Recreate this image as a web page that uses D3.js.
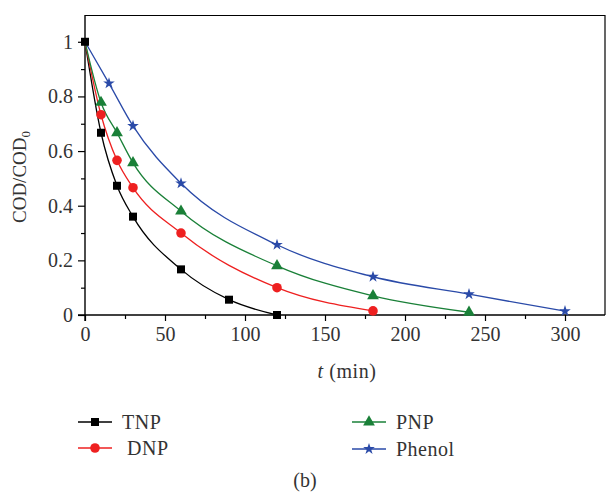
<!DOCTYPE html>
<html><head><meta charset="utf-8">
<script src="https://cdn.jsdelivr.net/npm/d3@7"></script>
<style>body{margin:0;background:#fff}svg{display:block}</style>
</head><body>
<svg id="c" width="606" height="496"></svg>
<script>
const seriesNames = ["TNP", "DNP", "PNP", "Phenol"];
const seriesColors = ["#000000", "#ee2020", "#1a8038", "#2a4aa8"];
const tnpT = [0, 10, 20, 30, 60, 90, 120];
const tnpV = [1, 0.667, 0.473, 0.36, 0.167, 0.056, 0];
const dnpT = [0, 10, 20, 30, 60, 120, 180];
const dnpV = [1, 0.733, 0.566, 0.466, 0.30, 0.10, 0.015];
const pnpT = [0, 10, 20, 30, 60, 120, 180, 240];
const pnpV = [1, 0.778, 0.667, 0.557, 0.38, 0.18, 0.07, 0.01];
const phenolT = [0, 15, 30, 60, 120, 180, 240, 300];
const phenolV = [1, 0.848, 0.692, 0.482, 0.257, 0.14, 0.076, 0.014];
const xTicks = [0, 50, 100, 150, 200, 250, 300];
const yTicks = [0, 0.2, 0.4, 0.6, 0.8, 1];

const svg = d3.select("#c");
const font = "'Liberation Serif','DejaVu Serif',serif";
const x = d3.scaleLinear().domain([0, 325]).range([85, 605]);
const y = d3.scaleLinear().domain([0, 1.098]).range([315, 15]);

const series = [
  {t: tnpT, v: tnpV, shape: "square"},
  {t: dnpT, v: dnpV, shape: "circle"},
  {t: pnpT, v: pnpV, shape: "triangle"},
  {t: phenolT, v: phenolV, shape: "star"}
].map((s, i) => ({...s, name: seriesNames[i], color: seriesColors[i],
  pts: s.t.map((t, j) => [t, s.v[j]])}));

// frame
svg.append("line").attr("x1", 85).attr("x2", 605).attr("y1", 15.5).attr("y2", 15.5).attr("stroke", "#000").attr("stroke-width", 1.2);
svg.append("line").attr("x1", 605).attr("x2", 605).attr("y1", 15).attr("y2", 315).attr("stroke", "#000").attr("stroke-width", 1.2);

// axes
const xAxis = svg.append("g").attr("transform", "translate(0,315)")
  .call(d3.axisBottom(x).tickValues(xTicks).tickSize(6).tickPadding(6).tickFormat(d3.format("d")));
const xMinor = svg.append("g").attr("transform", "translate(0,315)")
  .call(d3.axisBottom(x).tickValues(d3.range(25, 325, 50)).tickSize(4).tickFormat(""));
const yAxis = svg.append("g").attr("transform", "translate(85,0)")
  .call(d3.axisLeft(y).tickValues(yTicks).tickSize(7).tickPadding(5).tickFormat(d => d === 0 || d === 1 ? String(d) : d3.format(".1f")(d)));
const yMinor = svg.append("g").attr("transform", "translate(85,0)")
  .call(d3.axisLeft(y).tickValues(d3.range(0.1, 1.1, 0.2)).tickSize(4).tickFormat(""));
[xAxis, xMinor, yAxis, yMinor].forEach(g => {
  g.select(".domain").remove();
  g.selectAll("line").attr("stroke", "#000").attr("stroke-width", 1.2);
  g.selectAll("text").attr("font-family", font).attr("font-size", 20).attr("fill", "#333");
});
svg.append("line").attr("x1", 78).attr("x2", 605).attr("y1", 315).attr("y2", 315).attr("stroke", "#000").attr("stroke-width", 1.4);
svg.append("line").attr("x1", 85).attr("x2", 85).attr("y1", 15).attr("y2", 321).attr("stroke", "#000").attr("stroke-width", 1.4);

// axis labels
const xl = svg.append("text").attr("x", 347).attr("y", 378).attr("text-anchor", "middle")
  .attr("font-family", font).attr("font-size", 20).attr("fill", "#333").attr("letter-spacing", 0.6);
xl.append("tspan").attr("font-style", "italic").text("t");
xl.append("tspan").text(" (min)");
const yl = svg.append("text").attr("transform", "translate(26,177) rotate(-90)").attr("text-anchor", "middle")
  .attr("font-family", font).attr("font-size", 19).attr("fill", "#333");
yl.append("tspan").text("COD/COD");
yl.append("tspan").attr("font-size", 13).attr("dy", 4).text("0");

// curves
const line = d3.line().x(d => x(d[0])).y(d => y(d[1])).curve(d3.curveMonotoneX);
series.forEach(s => {
  svg.append("path").attr("d", line(s.pts)).attr("fill", "none").attr("stroke", s.color).attr("stroke-width", 1.3);
});

function symbolFor(shape) {
  if (shape === "square") return d3.symbol(d3.symbolSquare, 64);
  if (shape === "circle") return d3.symbol(d3.symbolCircle, 72);
  if (shape === "triangle") return d3.symbol(d3.symbolTriangle, 60);
  return d3.symbol(d3.symbolStar, 42);
}
series.forEach(s => {
  svg.append("g").selectAll("path").data(s.pts.slice(s.name === "TNP" ? 0 : 1)).join("path")
    .attr("transform", d => `translate(${x(d[0])},${y(d[1])})`)
    .attr("d", symbolFor(s.shape)()).attr("fill", s.color);
});

// legend
const legendPos = [[78, 422, 122], [78, 448, 127], [352, 422, 396], [352, 449, 396]];
series.forEach((s, i) => {
  const [lx, ly, tx] = legendPos[i];
  svg.append("line").attr("x1", lx).attr("x2", lx + 34).attr("y1", ly).attr("y2", ly).attr("stroke", s.color).attr("stroke-width", 1.3);
  svg.append("path").attr("transform", `translate(${lx + 17},${ly})`).attr("d", symbolFor(s.shape)()).attr("fill", s.color);
  svg.append("text").attr("x", tx).attr("y", ly + 7).attr("font-family", font).attr("font-size", 20).attr("fill", "#333").attr("letter-spacing", 0.5).text(s.name);
});
svg.append("text").attr("x", 305).attr("y", 487).attr("text-anchor", "middle")
  .attr("font-family", font).attr("font-size", 20).attr("fill", "#333").text("(b)");
</script>
</body></html>
